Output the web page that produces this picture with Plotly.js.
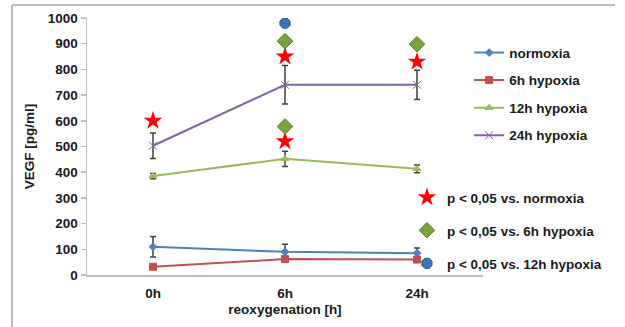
<!DOCTYPE html>
<html>
<head>
<meta charset="utf-8">
<script src="https://cdn.plot.ly/plotly-3.0.1.min.js"></script>
<style>html,body{margin:0;padding:0;background:#fff;}#chart{width:625px;height:327px;}</style>
</head>
<body>
<div id="chart"></div>
<script>
const categories = ["0h", "6h", "24h"];
const normoxia = [110, 90, 85];
const normoxiaErr = [40, 30, 20];
const hypoxia6h = [32, 62, 60];
const hypoxia6hErr = [0, 0, 0];
const hypoxia12h = [385, 452, 413];
const hypoxia12hErr = [10, 30, 15];
const hypoxia24h = [503, 740, 740];
const hypoxia24hErr = [50, 75, 57];

const starX = ["0h", "6h", "6h", "24h"];
const starY = [600, 850, 520, 830];
const diamondX = ["6h", "6h", "24h"];
const diamondY = [910, 578, 898];
const octX = ["6h"];
const octY = [980];

const seriesNames = ["normoxia", "6h hypoxia", "12h hypoxia", "24h hypoxia"];
const sigNames = ["p < 0,05 vs. normoxia", "p < 0,05 vs. 6h hypoxia", "p < 0,05 vs. 12h hypoxia"];
const yTicks = [0, 100, 200, 300, 400, 500, 600, 700, 800, 900, 1000];

const errStyle = (arr) => ({type: "data", array: arr, visible: true, color: "#404040", thickness: 1.5, width: 3});

function series(name, y, err, color, symbol, size, grp) {
  return {
    type: "scatter", mode: "lines+markers", name: name, x: categories, y: y,
    error_y: errStyle(err),
    line: {color: color, width: 2},
    marker: {color: color, symbol: symbol, size: size, line: {color: color, width: 1}},
    legend: "legend", legendgroup: grp
  };
}

const traces = [
  series(seriesNames[0], normoxia, normoxiaErr, "#4F81BD", "diamond", 6, "a"),
  series(seriesNames[1], hypoxia6h, hypoxia6hErr, "#C0504D", "square", 7, "b"),
  series(seriesNames[2], hypoxia12h, hypoxia12hErr, "#9BBB59", "triangle-up", 7, "c"),
  series(seriesNames[3], hypoxia24h, hypoxia24hErr, "#8064A2", "x-thin-open", 8, "d"),
  {type: "scatter", mode: "markers", name: sigNames[0], x: starX, y: starY,
   marker: {symbol: "star", size: 14, color: "#FF0000", line: {color: "#FF0000", width: 0}},
   legend: "legend2", legendgroup: "e"},
  {type: "scatter", mode: "markers", name: sigNames[1], x: diamondX, y: diamondY,
   marker: {symbol: "diamond", size: 12, color: "#77A23C", line: {color: "#5E7F2E", width: 1}},
   legend: "legend2", legendgroup: "f"},
  {type: "scatter", mode: "markers", name: sigNames[2], x: octX, y: octY,
   marker: {symbol: "octagon", size: 11, color: "#3F74B4", line: {color: "#2C5A8E", width: 1}},
   legend: "legend2", legendgroup: "g"}
];

const FAM = "Liberation Sans, Arial, sans-serif";
const bf = (s) => ({family: FAM, size: s, color: "#1a1a1a", weight: 700});

const layout = {
  width: 625, height: 327,
  margin: {l: 87, r: 142, t: 18, b: 52},
  paper_bgcolor: "#ffffff", plot_bgcolor: "#ffffff",
  font: bf(13),
  showlegend: true,
  xaxis: {
    type: "category", range: [-0.5, 2.5],
    showline: true, linecolor: "#BFBFBF", linewidth: 1.5,
    showgrid: false, zeroline: false, ticks: "",
    ticklabelstandoff: 5,
    tickfont: bf(13.5),
    title: {text: "reoxygenation [h]", font: bf(13.5), standoff: 5}
  },
  yaxis: {
    range: [0, 1000], tickvals: yTicks, ticktext: yTicks.map(String),
    showline: true, linecolor: "#BFBFBF", linewidth: 1.5,
    showgrid: false, zeroline: false,
    ticks: "outside", ticklen: 5, tickcolor: "#BFBFBF", tickwidth: 1.5,
    tickfont: bf(13.5),
    title: {text: "VEGF [pg/ml]", font: bf(13.5), standoff: 10}
  },
  legend: {
    x: 0.965, xanchor: "left", y: 0.925, yanchor: "top",
    traceorder: "grouped", tracegroupgap: 7,
    bgcolor: "rgba(0,0,0,0)",
    font: bf(13.5)
  },
  legend2: {
    x: 0.808, xanchor: "left", y: 0.362, yanchor: "top",
    traceorder: "grouped", tracegroupgap: 12.5,
    bgcolor: "rgba(0,0,0,0)",
    font: bf(13.5)
  },
  shapes: [
    {type: "line", xref: "paper", yref: "paper", x0: -0.1894, x1: 1.3333, y0: 1.0506, y1: 1.0506, line: {color: "#A6A6A6", width: 1.5}},
    {type: "line", xref: "paper", yref: "paper", x0: -0.1894, x1: -0.1894, y0: 1.0506, y1: -0.21, line: {color: "#A6A6A6", width: 1.5}}
  ]
};

Plotly.newPlot("chart", traces, layout, {displayModeBar: false, staticPlot: true});
</script>
</body>
</html>
